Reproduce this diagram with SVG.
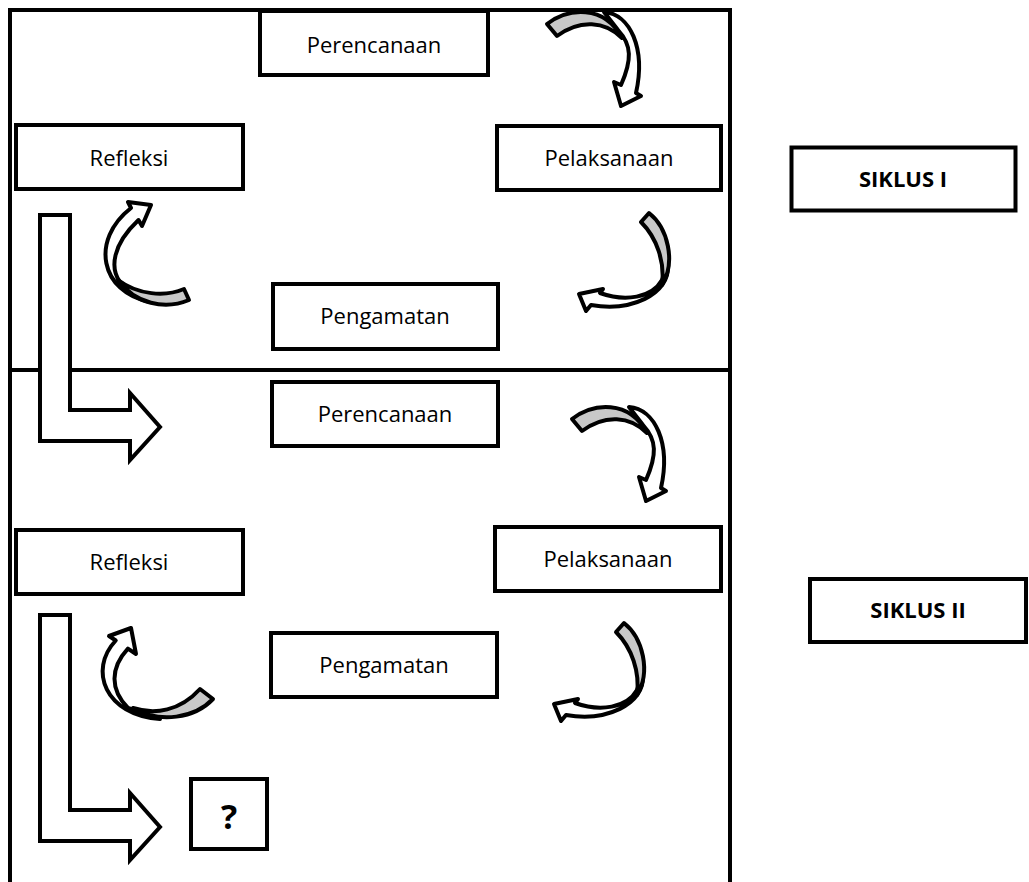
<svg xmlns="http://www.w3.org/2000/svg" width="1029" height="882" viewBox="0 0 1029 882">
<style>
.box{fill:#fff;stroke:#000;stroke-width:4}
.frame{fill:none;stroke:#000;stroke-width:4}
.t{font-family:"Open Sans","Liberation Sans",sans-serif;font-size:22px;fill:#000;text-anchor:middle}
.b{font-weight:bold}
.arw{fill:#fff;stroke:#000;stroke-width:4;stroke-linejoin:round}
.gry{fill:#c8c8c8;stroke:#000;stroke-width:4;stroke-linejoin:round}
.bent{fill:#fff;stroke:#000;stroke-width:4;stroke-linejoin:miter}
</style>
<rect width="1029" height="882" fill="#fff"/>
<g id="frame">
<path class="frame" d="M10,882 V10 H730 V882 M10,370 H730"/>
</g>
<g id="connectors">
<path class="bent" d="M40,215 H70 V410 H130 V393 L160,427 L130,460 V441 H40 Z"/>
<path class="bent" d="M40,615 H70 V810 H130 V793 L160,827 L130,860 V841 H40 Z"/>
<g id="arrowA1">
<path class="arw" d="M604,12 C630,14 646,48 636,93 L641,96 L621,106 L614,82 L621,85 C632,60 632,45 618,30 Z"/>
<path class="gry" d="M547,24 C568,8 604,4 622,38 C605,21 580,19 557,36 Z"/>
</g>
<g id="arrowA2" transform="translate(25,395)">
<path class="arw" d="M604,12 C630,14 646,48 636,93 L641,96 L621,106 L614,82 L621,85 C632,60 632,45 618,30 Z"/>
<path class="gry" d="M547,24 C568,8 604,4 622,38 C605,21 580,19 557,36 Z"/>
</g>
<g id="arrowB1">
<path class="arw" d="M668,265 C670,295 630,312 591,305 L586,311 L579,294 L603,289 L600,293 C625,302 652,298 662,280 Z"/>
<path class="gry" d="M649,213 C668,228 676,262 662,285 C665,262 657,238 641,222 Z"/>
</g>
<g id="arrowB2" transform="translate(-25,410)">
<path class="arw" d="M668,265 C670,295 630,312 591,305 L586,311 L579,294 L603,289 L600,293 C625,302 652,298 662,280 Z"/>
<path class="gry" d="M649,213 C668,228 676,262 662,285 C665,262 657,238 641,222 Z"/>
</g>
<g id="arrowC1">
<path class="arw" d="M150,302 C100,292 90,240 131,208 L128,202 L151,205 L142,226 L138.5,220 C112,245 110,268 120,282 Z"/>
<path class="gry" d="M189,300 C165,310 135,304 118,280 C138,295 165,297 184,289 Z"/>
</g>
<g id="arrowC2">
<path class="arw" d="M160,719 C105,715 88,670 115.75,640.5 L109,636 L131,628 L136,654 L127.9,648.6 C110,668 110,690 128,708 Z"/>
<path class="gry" d="M213,699 C195,718 160,724 133,708 C155,715 180,711 200,689 Z"/>
</g>
</g>
<g id="perencanaan1"><rect class="box" x="260" y="11" width="228" height="64"/><text class="t" x="374" y="53">Perencanaan</text></g>
<g id="refleksi1"><rect class="box" x="16" y="125" width="227" height="64"/><text class="t" x="129" y="166">Refleksi</text></g>
<g id="pelaksanaan1"><rect class="box" x="497" y="126" width="224" height="64"/><text class="t" x="609" y="166">Pelaksanaan</text></g>
<g id="pengamatan1"><rect class="box" x="273" y="284" width="225" height="65"/><text class="t" x="385" y="324">Pengamatan</text></g>
<g id="siklus1"><rect class="box" x="791.5" y="147.5" width="224" height="63"/><text class="t b" x="903" y="187">SIKLUS I</text></g>
<g id="perencanaan2"><rect class="box" x="272" y="382" width="226" height="64"/><text class="t" x="385" y="422">Perencanaan</text></g>
<g id="refleksi2"><rect class="box" x="16" y="530" width="227" height="64"/><text class="t" x="129" y="570">Refleksi</text></g>
<g id="pelaksanaan2"><rect class="box" x="495" y="527" width="226" height="64"/><text class="t" x="608" y="567">Pelaksanaan</text></g>
<g id="pengamatan2"><rect class="box" x="271" y="633" width="226" height="64"/><text class="t" x="384" y="673">Pengamatan</text></g>
<g id="siklus2"><rect class="box" x="810" y="579" width="216" height="63"/><text class="t b" x="918" y="618">SIKLUS II</text></g>
<g id="question"><rect class="box" x="191" y="779" width="76" height="70"/><text class="t b" x="229" y="829" style="font-size:34px">?</text></g>
</svg>
